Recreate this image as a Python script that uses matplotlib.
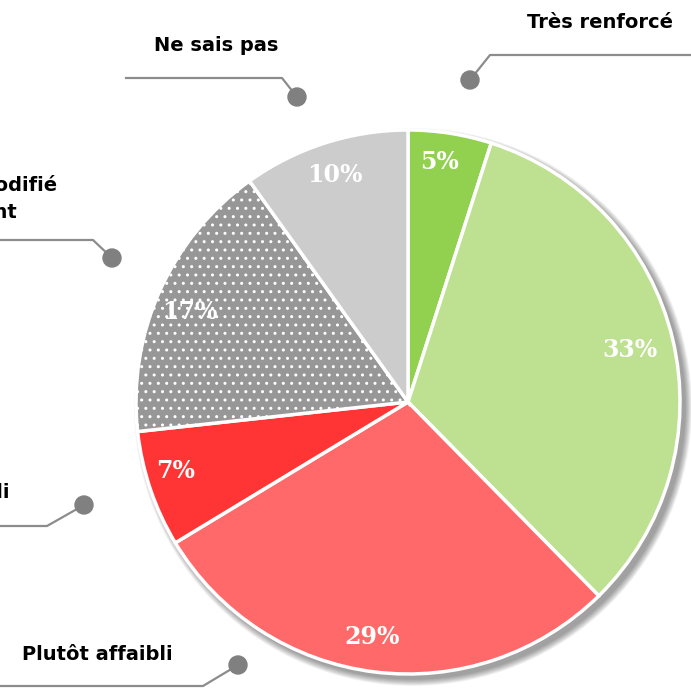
import matplotlib.pyplot as plt

# données du camembert (sens horaire depuis midi)
labels = ["Très renforcé", "Plutôt renforcé", "Plutôt affaibli", "Très affaibli",
          "N'a pas modifié\nfondamentalement", "Ne sais pas"]
values = [5, 33, 29, 7, 17, 10]
colors = ["#92D050", "#BDE091", "#FF6969", "#FF3535", "#979797", "#CCCCCC"]
hatches = [None, None, None, None, "..", None]

W = H = 691
CX, CY, R = 408, 402, 272


def Y(py):
    # coordonnées pixel (haut -> bas) vers coordonnées de l'axe
    return H - py


fig = plt.figure(figsize=(6.91, 6.91), dpi=100)
ax = fig.add_axes([0, 0, 1, 1])

# ombre portée
for i in range(12):
    c = plt.Circle((CX + 5, Y(CY + 5)), R + 7 - i * 0.6, color="black",
                   alpha=0.035, lw=0, zorder=0)
    ax.add_patch(c)

wedges, texts = ax.pie(values, colors=colors, startangle=90, counterclock=False,
                       center=(CX, Y(CY)), radius=R, frame=True,
                       wedgeprops=dict(edgecolor="white", linewidth=2.5))
for w, h in zip(wedges, hatches):
    w.set_zorder(2)
    if h:
        w.set_hatch(h)
ax.set_xlim(0, W)
ax.set_ylim(0, H)
ax.set_aspect("equal")
ax.axis("off")

# étiquettes de pourcentage
pct_pos = [(440, 162), (630, 350), (372, 637), (176, 471), (190, 312), (335, 175)]
for v, (px, py) in zip(values, pct_pos):
    ax.text(px, Y(py), f"{v}%", ha="center", va="center", color="white",
            fontsize=17, fontweight="bold", family="DejaVu Serif", zorder=5)

# lignes de rappel : point, coude, extrémité horizontale
leaders = [
    [(470, 80), (490, 55), (700, 55)],
    [(297, 97), (282, 78), (126, 78)],
    [(112, 258), (93, 240), (-10, 240)],
    [(84, 505), (47, 526), (-10, 526)],
    [(238, 665), (203, 686), (-10, 686)],
]
for pts in leaders:
    xs = [p[0] for p in pts]
    ys = [Y(p[1]) for p in pts]
    ax.plot(xs, ys, color="#8C8C8C", lw=1.6, zorder=3, clip_on=False)
    ax.add_patch(plt.Circle((xs[0], ys[0]), 9, color="#808080", zorder=4))

lab_font = dict(fontsize=14, fontweight="bold", family="DejaVu Sans", color="black")
ax.text(673, Y(22), labels[0], ha="right", va="center", **lab_font)
ax.text(278, Y(45), labels[5], ha="right", va="center", **lab_font)
ax.text(57, Y(185), "N'a pas modifié", ha="right", va="center", **lab_font)
ax.text(17, Y(212), "fondamentalement", ha="right", va="center", **lab_font)
ax.text(10, Y(493), labels[3], ha="right", va="center", **lab_font)
ax.text(173, Y(655), labels[2], ha="right", va="center", **lab_font)

fig.savefig("out.png", dpi=100, facecolor="white")
